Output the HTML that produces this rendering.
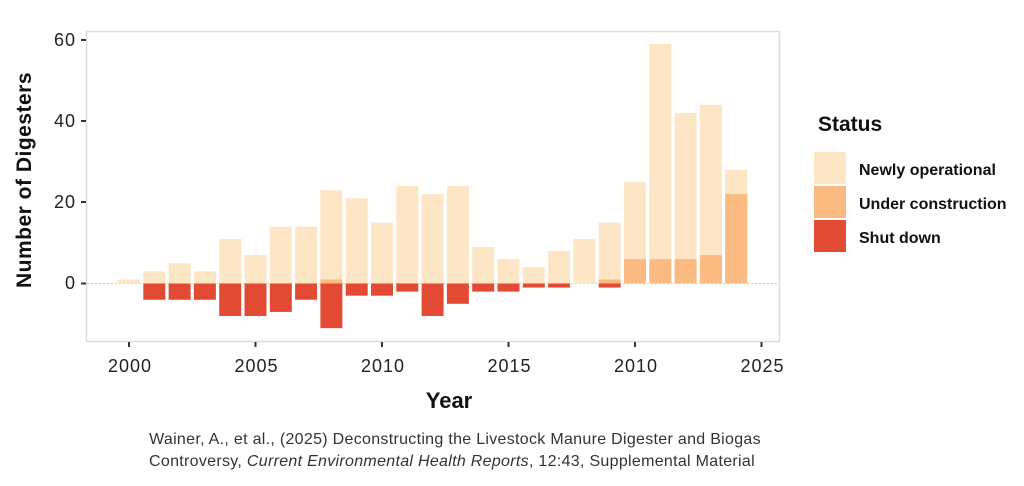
<!DOCTYPE html>
<html><head><meta charset="utf-8"><style>
body{margin:0;background:#fff;}
svg{display:block;font-family:"Liberation Sans",sans-serif;}
</style></head><body>
<svg width="1024" height="486" viewBox="0 0 1024 486" xmlns="http://www.w3.org/2000/svg">
<rect x="86.5" y="31.5" width="693" height="310" fill="#fff" stroke="#dcdcdc" stroke-width="1.5"/>
<line x1="87" y1="283.5" x2="779" y2="283.5" stroke="#ccc" stroke-dasharray="2,2" stroke-width="1"/>
<g id="bars"></g>
<g stroke="#333" stroke-width="2">
<line x1="81" y1="40" x2="86" y2="40"/><line x1="81" y1="121" x2="86" y2="121"/><line x1="81" y1="202" x2="86" y2="202"/><line x1="81" y1="283.5" x2="86" y2="283.5"/>
<line x1="129" y1="342" x2="129" y2="347"/><line x1="255.5" y1="342" x2="255.5" y2="347"/><line x1="382" y1="342" x2="382" y2="347"/><line x1="508.5" y1="342" x2="508.5" y2="347"/><line x1="635" y1="342" x2="635" y2="347"/><line x1="761.5" y1="342" x2="761.5" y2="347"/>
</g>
<g font-size="18" fill="#222" text-anchor="end" letter-spacing="1">
<text x="76" y="46">60</text><text x="76" y="127">40</text><text x="76" y="208">20</text><text x="76" y="289">0</text>
</g>
<g font-size="18" fill="#222" text-anchor="middle" letter-spacing="1">
<text x="130" y="372">2000</text><text x="256.5" y="372">2005</text><text x="383" y="372">2010</text><text x="509.5" y="372">2015</text><text x="636" y="372">2010</text><text x="762.5" y="372">2025</text>
</g>
<text x="449" y="408" font-size="22" font-weight="bold" text-anchor="middle" fill="#111">Year</text>
<text transform="translate(31,180) rotate(-90)" font-size="21" font-weight="bold" text-anchor="middle" fill="#111" letter-spacing="0.5">Number of Digesters</text>
<text x="818" y="131" font-size="21" font-weight="bold" fill="#111">Status</text>
<rect x="814" y="152" width="32" height="32" fill="#fde6c6"/>
<rect x="814" y="186" width="32" height="32" fill="#fbba82"/>
<rect x="814" y="220" width="32" height="32" fill="#e34a33"/>
<g font-size="16" font-weight="bold" fill="#111">
<text x="859" y="175">Newly operational</text><text x="859" y="209">Under construction</text><text x="859" y="243">Shut down</text>
</g>
<g font-size="16" fill="#333" text-anchor="middle" letter-spacing="0.3">
<text x="455" y="444">Wainer, A., et al., (2025) Deconstructing the Livestock Manure Digester and Biogas</text>
<text x="452" y="466">Controversy, <tspan font-style="italic">Current Environmental Health Reports</tspan>, 12:43, Supplemental Material</text>
</g>
</svg>
<script>
var d=[[1,0,0],[3,0,4],[5,0,4],[3,0,4],[11,0,8],[7,0,8],[14,0,7],[14,0,4],[23,1,11],[21,0,3],[15,0,3],[24,0,2],[22,0,8],[24,0,5],[9,0,2],[6,0,2],[4,0,1],[8,0,1],[11,0,0],[15,1,1],[25,6,0],[59,6,0],[42,6,0],[44,7,0],[28,22,0]];
var g=document.getElementById('bars'),s='',k=4.06,z=283.5;
d.forEach(function(v,i){var cx=129+25.3*i,x=cx-11,w=22;
s+='<rect x="'+x+'" y="'+(z-v[0]*k)+'" width="'+w+'" height="'+(v[0]*k)+'" fill="#fde6c6"/>';
if(v[1])s+='<rect x="'+x+'" y="'+(z-v[1]*k)+'" width="'+w+'" height="'+(v[1]*k)+'" fill="#fbba82"/>';
if(v[2])s+='<rect x="'+x+'" y="'+z+'" width="'+w+'" height="'+(v[2]*k)+'" fill="#e34a33"/>';});
g.innerHTML=s;
</script>
</body></html>
